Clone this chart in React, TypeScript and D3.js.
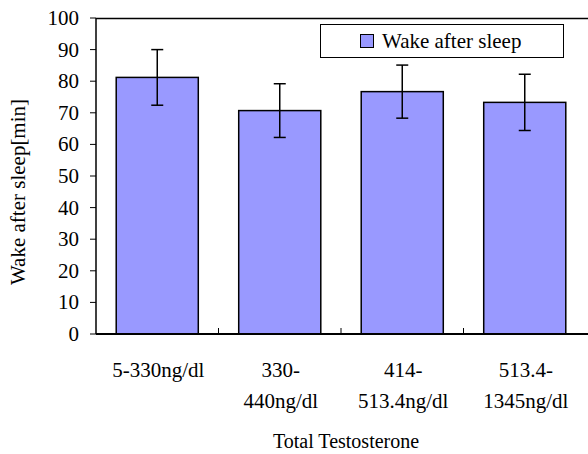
import React from "react";
import * as d3 from "d3";

const categories: string[][] = [
  ["5-330ng/dl"],
  ["330-", "440ng/dl"],
  ["414-", "513.4ng/dl"],
  ["513.4-", "1345ng/dl"],
];
const values: number[] = [81.2, 70.7, 76.7, 73.3];
const errors: number[] = [8.8, 8.5, 8.4, 8.9];
const yTicks: number[] = [0, 10, 20, 30, 40, 50, 60, 70, 80, 90, 100];
const seriesName = "Wake after sleep";
const yTitle = "Wake after sleep[min]";
const xTitle = "Total Testosterone";

const W = 588;
const H = 454;
const left = 96;
const right = 586;
const top = 18;
const bottom = 334;
const FILL = "#9999FF";

export default function App() {
  const keys = categories.map((c) => c.join(" "));
  const x = d3
    .scaleBand<string>()
    .domain(keys)
    .range([left, right])
    .paddingInner(0.33)
    .paddingOuter(0.165);
  const y = d3.scaleLinear().domain([0, 100]).range([bottom, top]);
  const step = x.step();
  const ts = { fontFamily: '"Times New Roman"' };

  return (
    <svg width={W} height={H} style={{ position: "absolute", left: 0, top: 0 }}>
      <style>{`text { font-family: "Liberation Serif", "Times New Roman" !important; }`}</style>
      {/* plot frame */}
      <line x1={left} x2={W + 2} y1={top + 0.5} y2={top + 0.5} stroke="#000" strokeWidth={1.5} />
      <line x1={left} x2={left} y1={top} y2={bottom} stroke="#000" strokeWidth={1.5} />

      {/* y ticks */}
      {yTicks.map((t) => (
        <g key={t}>
          <line x1={left - 6} x2={left} y1={y(t)} y2={y(t)} stroke="#000" strokeWidth={1} />
          <text x={79} y={y(t) + 7} textAnchor="end" fontSize={21} style={ts}>
            {t}
          </text>
        </g>
      ))}

      {/* bars */}
      {keys.map((k, i) => {
        const x0 = x(k)!;
        const bw = x.bandwidth();
        const cx = x0 + bw / 2;
        return (
          <g key={k}>
            <rect
              x={x0}
              y={y(values[i])}
              width={bw}
              height={y(0) - y(values[i])}
              fill={FILL}
              stroke="#000"
              strokeWidth={1.5}
            />
            <line x1={cx} x2={cx} y1={y(values[i] + errors[i])} y2={y(values[i] - errors[i])} stroke="#000" strokeWidth={1.5} />
            <line x1={cx - 6} x2={cx + 6} y1={y(values[i] + errors[i])} y2={y(values[i] + errors[i])} stroke="#000" strokeWidth={1.5} />
            <line x1={cx - 6} x2={cx + 6} y1={y(values[i] - errors[i])} y2={y(values[i] - errors[i])} stroke="#000" strokeWidth={1.5} />
          </g>
        );
      })}

      {/* x axis */}
      <line x1={left} x2={W + 2} y1={bottom} y2={bottom} stroke="#000" strokeWidth={2} />
      {keys.map((k, i) =>
        i < keys.length - 1 ? (
          <line
            key={"t" + k}
            x1={x(k)! - step * 0.165 + step}
            x2={x(k)! - step * 0.165 + step}
            y1={bottom}
            y2={bottom - 6}
            stroke="#000"
            strokeWidth={1}
          />
        ) : null
      )}
      {keys.map((k, i) => {
        const cx = x(k)! + x.bandwidth() / 2 + 1;
        return (
          <text key={"l" + k} x={cx} y={377} textAnchor="middle" fontSize={21} style={ts}>
            {categories[i].map((line, j) => (
              <tspan key={j} x={cx} y={377 + j * 31}>
                {line}
              </tspan>
            ))}
          </text>
        );
      })}

      {/* axis titles */}
      <text x={(left + right) / 2 + 5} y={448} textAnchor="middle" fontSize={20} style={ts}>
        {xTitle}
      </text>
      <text
        transform={`translate(25, ${(top + bottom) / 2 + 16}) rotate(-90)`}
        textAnchor="middle"
        fontSize={21}
        style={ts}
      >
        {yTitle}
      </text>

      {/* legend */}
      <rect x={320.5} y={24.5} width={243} height={33} fill="#fff" stroke="#000" strokeWidth={1} />
      <rect x={360.5} y={34.5} width={13} height={13} fill={FILL} stroke="#000" strokeWidth={1} />
      <text x={382} y={48} fontSize={21} style={ts}>
        {seriesName}
      </text>
    </svg>
  );
}
